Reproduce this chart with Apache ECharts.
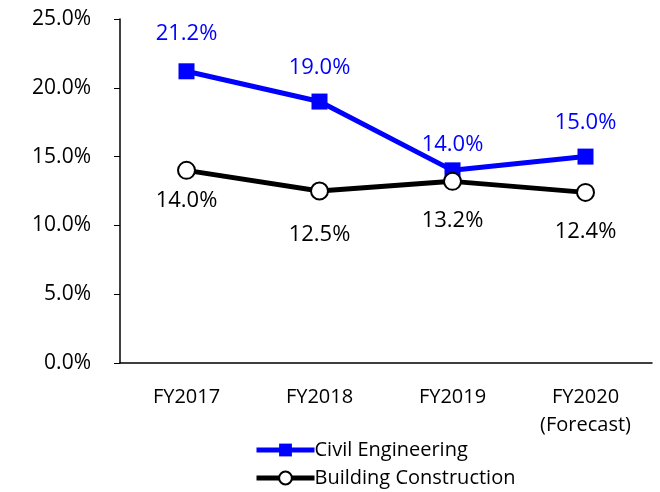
<!DOCTYPE html>
<html>
<head>
<meta charset="utf-8">
<script src="https://cdn.jsdelivr.net/npm/echarts@6/dist/echarts.min.js"></script>
<style>
  html, body { margin: 0; padding: 0; background: #fff; }
  #chart { width: 660px; height: 492px; }
</style>
</head>
<body>
<div id="chart"></div>
<script>
const categories = ['FY2017', 'FY2018', 'FY2019', 'FY2020\n(Forecast)']
const civil = [21.2, 19.0, 14.0, 15.0]
const building = [14.0, 12.5, 13.2, 12.4]
const yTicks = [0, 5, 25]

// label gaps from the marker, as placed in the original
const civilLabelGap = [19, 15, 7, 15]
const buildingLabelGap = [10, 23, 19, 19]

const font = '"Open Sans", "Liberation Sans", sans-serif'
const blue = '#0000ff'
const black = '#000'
const pct = v => v.toFixed(1) + '%'

const withGaps = (values, gaps) => values.map((v, i) => ({
  value: v,
  label: { distance: gaps[i] }
}))

// one legend row per series, stacked like the original
const legendRow = (name, top) => ({
  left: 254,
  top: top,
  itemWidth: 58,
  itemHeight: 16,
  padding: 0,
  textStyle: { fontFamily: font, fontSize: 20, color: black, padding: [0, 0, 0, -5] },
  data: [{ name: name, lineStyle: { width: 5 } }]
})

const myChart = echarts.init(document.getElementById('chart'))
const option = {
  animation: false,
  textStyle: { fontFamily: font },
  grid: { left: 120, right: 8, top: 19, bottom: 129 },
  legend: [
    legendRow('Civil Engineering', 440),
    legendRow('Building Construction', 468)
  ],
  xAxis: {
    type: 'category',
    data: categories,
    boundaryGap: true,
    axisLine: { lineStyle: { color: black, width: 1.5 } },
    axisTick: { inside: true, length: 6, lineStyle: { color: black } },
    axisLabel: { color: black, fontSize: 20, margin: 20, lineHeight: 28 }
  },
  yAxis: {
    type: 'value',
    min: yTicks[0],
    max: yTicks[2],
    interval: yTicks[1],
    splitLine: { show: false },
    axisLine: { show: true, lineStyle: { color: black, width: 1.5 } },
    axisTick: { show: true, length: 6, lineStyle: { color: black } },
    axisLabel: {
      color: black,
      fontSize: 21,
      margin: 29,
      formatter: pct
    }
  },
  series: [
    {
      name: 'Civil Engineering',
      type: 'line',
      data: withGaps(civil, civilLabelGap),
      symbol: 'rect',
      symbolSize: 16,
      lineStyle: { color: blue, width: 5 },
      itemStyle: { color: blue },
      label: {
        show: true,
        position: 'top',
        color: blue,
        fontSize: 22,
        formatter: p => pct(p.value)
      },
      z: 3
    },
    {
      name: 'Building Construction',
      type: 'line',
      data: withGaps(building, buildingLabelGap),
      symbol: 'circle',
      symbolSize: 17,
      lineStyle: { color: black, width: 5 },
      itemStyle: { color: '#fff', borderColor: black, borderWidth: 2 },
      label: {
        show: true,
        position: 'bottom',
        color: black,
        fontSize: 22,
        formatter: p => pct(p.value)
      },
      z: 4
    }
  ]
}
myChart.setOption(option)
</script>
</body>
</html>
